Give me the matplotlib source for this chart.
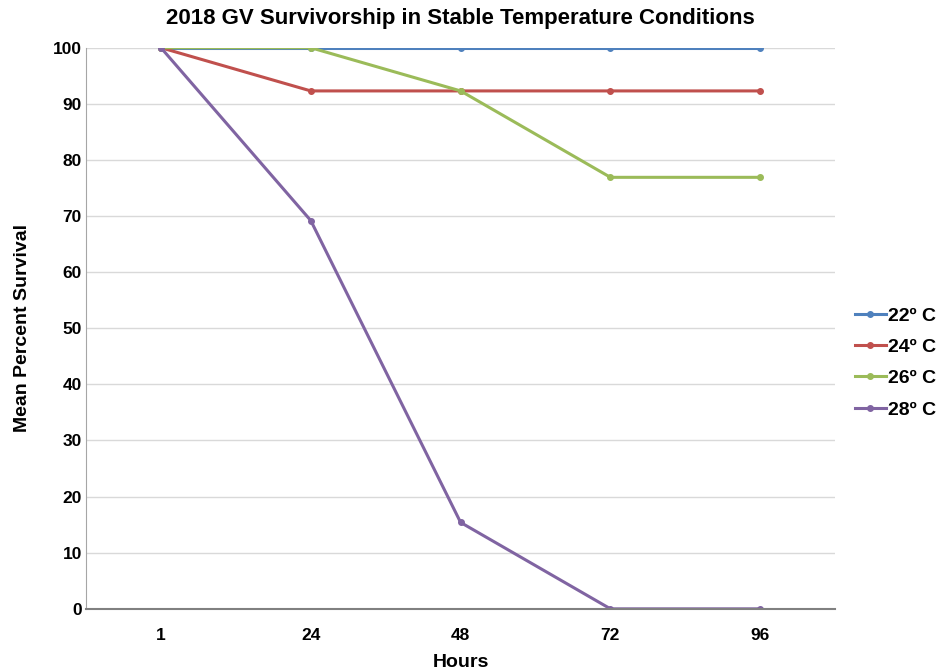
import matplotlib
matplotlib.use("Agg")
from matplotlib import pyplot as plt

hours = ["1", "24", "48", "72", "96"]
temps = ["22º C", "24º C", "26º C", "28º C"]
surv_22 = [100, 100, 100, 100, 100]
surv_24 = [100, 92.3, 92.3, 92.3, 92.3]
surv_26 = [100, 100, 92.3, 76.9, 76.9]
surv_28 = [100, 69.2, 15.4, 0, 0]
colors = ["#4F81BD", "#C0504D", "#9BBB59", "#8064A2"]

plt.rcParams['font.family'] = ['Liberation Sans', 'DejaVu Sans']

fig = plt.figure(figsize=(9.4, 6.72), dpi=100)
ax = fig.add_axes([0.0915, 0.094, 0.797, 0.835])

x = list(range(len(hours)))
for series, label, c in zip([surv_22, surv_24, surv_26, surv_28], temps, colors):
    ax.plot(x, series, color=c, lw=2.2, marker='o', ms=4, label=label)

ax.set_xlim(-0.5, len(hours) - 0.5)
ax.set_ylim(0, 100)
ax.set_yticks(range(0, 101, 10))
ax.set_xticks(x)
ax.set_xticklabels(hours)
ax.tick_params(axis='both', length=0, labelsize=12.5)
for lbl in ax.get_xticklabels() + ax.get_yticklabels():
    lbl.set_fontweight('bold')
ax.tick_params(axis='y', pad=3)
ax.tick_params(axis='x', pad=14)
ax.grid(axis='y', color='#D9D9D9', lw=1)
ax.set_axisbelow(True)
for s in ['top', 'right']:
    ax.spines[s].set_visible(False)
ax.spines['left'].set_color('#A6A6A6')
ax.spines['bottom'].set_color('#808080')
ax.spines['bottom'].set_linewidth(1.5)

ax.set_title("2018 GV Survivorship in Stable Temperature Conditions",
             fontsize=16, fontweight='bold', pad=17)
ax.set_xlabel("Hours", fontsize=14, fontweight='bold', labelpad=8)
ax.set_ylabel("Mean Percent Survival", fontsize=14, fontweight='bold')
ax.yaxis.set_label_coords(-0.073, 0.5)

leg = fig.legend(loc='center left', bbox_to_anchor=(0.91, 0.46), frameon=False,
                 prop={'weight': 'bold', 'size': 14}, handlelength=1.55,
                 handletextpad=0.15, labelspacing=0.7, borderpad=0, borderaxespad=0)

plt.savefig("out.png", dpi=100)
